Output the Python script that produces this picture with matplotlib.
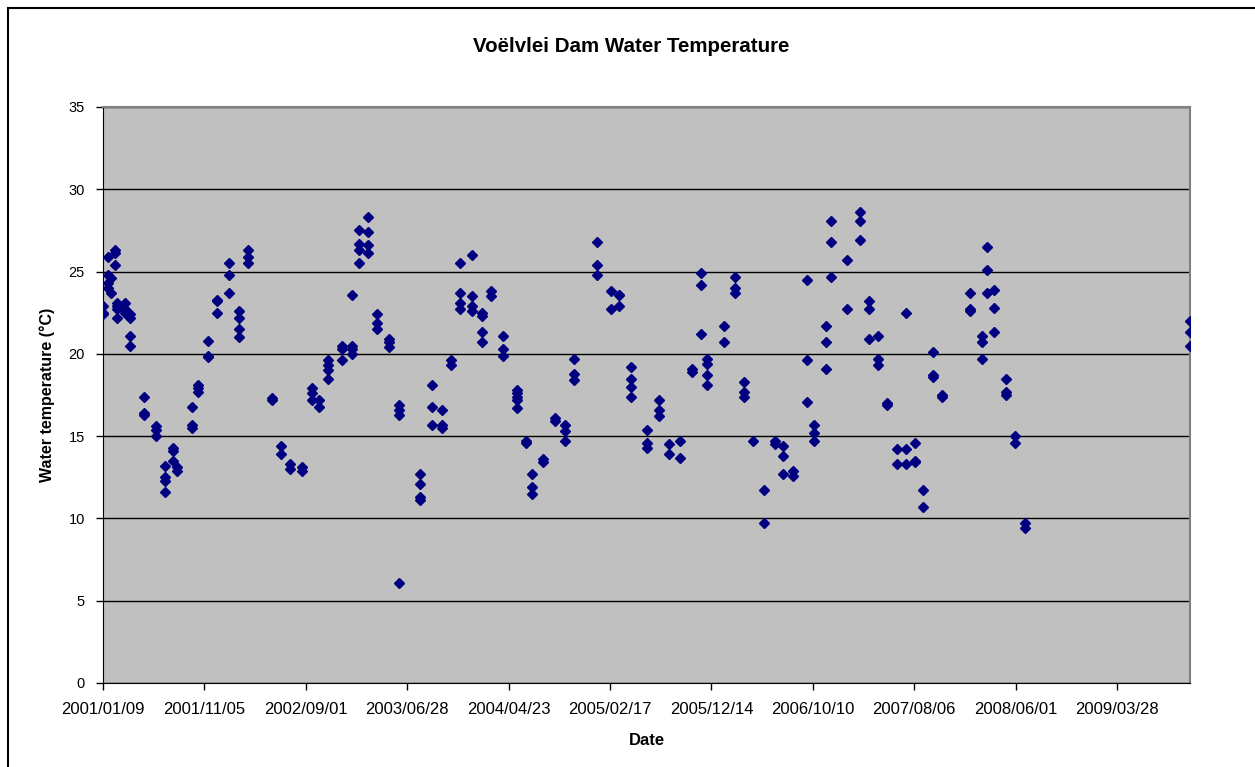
import numpy as np
import matplotlib
matplotlib.use('Agg')
import matplotlib.pyplot as plt
import matplotlib.dates as mdates
from matplotlib.patches import Rectangle

plt.rcParams['font.family'] = ['Liberation Sans', 'DejaVu Sans']

# sampling days, counted from 2001/01/09, and the temperatures read on each day
start = np.datetime64('2001-01-09')
sample_days = [0, 15, 24, 36, 41, 65, 80, 121, 157, 183, 207, 219, 263, 281,
               311, 337, 373, 402, 429, 500, 527, 553, 589, 618, 639, 666,
               707, 737, 757, 784, 811, 846, 876, 938, 973, 1003, 1030, 1056,
               1092, 1121, 1148, 1183, 1225, 1251, 1269, 1302, 1337, 1367,
               1394, 1462, 1503, 1527, 1562, 1609, 1645, 1675, 1707, 1743,
               1769, 1787, 1837, 1870, 1896, 1923, 1956, 1988, 2012, 2041,
               2083, 2104, 2139, 2154, 2201, 2240, 2266, 2293, 2320, 2349,
               2376, 2402, 2426, 2456, 2482, 2565, 2601, 2615, 2636, 2672,
               2698, 2728, 3216]
temps = [
    [22.9, 22.5, 22.4],
    [25.9, 24.8, 24.3, 24.0],
    [24.6, 23.7],
    [26.3, 26.1, 25.4],
    [23.1, 22.7, 22.2, 22.9],
    [23.1, 22.7, 22.5],
    [22.2, 21.1, 20.5, 22.4],
    [17.4, 16.4, 16.3],
    [15.6, 15.4, 15.0],
    [13.2, 12.5, 12.3, 11.6],
    [14.3, 14.1, 13.5],
    [13.1, 12.9],
    [16.8, 15.7, 15.5],
    [18.1, 17.9, 17.7],
    [20.8, 19.9, 19.8],
    [23.3, 23.2, 22.5],
    [25.5, 24.8, 23.7],
    [22.6, 22.2, 21.5, 21.0],
    [26.3, 25.9, 25.5],
    [17.3, 17.2],
    [14.4, 13.9],
    [13.3, 13.0],
    [13.1, 12.9],
    [17.9, 17.6, 17.2],
    [17.2, 16.8],
    [19.6, 19.3, 19.0, 18.5],
    [20.5, 20.3, 19.6],
    [20.5, 20.3, 20.0, 23.6],
    [27.5, 26.7, 26.3, 25.5],
    [28.3, 27.4, 26.6, 26.1],
    [22.4, 21.9, 21.5],
    [20.9, 20.7, 20.4],
    [16.9, 16.6, 16.3, 6.1],
    [12.7, 12.1, 11.3, 11.1],
    [18.1, 16.8, 15.7],
    [16.6, 15.7, 15.5],
    [19.6, 19.3],
    [25.5, 23.7, 23.1, 22.7],
    [26.0, 23.5, 22.9, 22.6],
    [22.5, 22.3, 21.3, 20.7],
    [23.8, 23.5],
    [21.1, 20.3, 19.9],
    [17.8, 17.6, 17.4, 17.2, 16.7],
    [14.7, 14.6],
    [12.7, 11.9, 11.5],
    [13.6, 13.4],
    [16.1, 15.9],
    [15.7, 15.3, 14.7],
    [19.7, 18.8, 18.4],
    [26.8, 25.4, 24.8],
    [23.8, 22.7],
    [23.6, 23.6, 22.9],
    [19.2, 18.5, 18.0, 17.4],
    [15.4, 14.6, 14.3],
    [17.2, 16.6, 16.2],
    [14.5, 13.9],
    [14.7, 13.7],
    [19.1, 18.9],
    [24.9, 24.2, 21.2],
    [19.7, 19.4, 18.7, 18.1],
    [21.7, 20.7],
    [24.7, 24.0, 23.7],
    [18.3, 17.7, 17.4],
    [14.7],
    [11.7, 9.7],
    [14.7, 14.5],
    [14.4, 13.8, 12.7],
    [12.9, 12.6],
    [24.5, 19.6, 17.1],
    [15.7, 15.2, 14.7],
    [21.7, 20.7, 19.1],
    [28.1, 26.8, 24.7],
    [25.7, 22.7],
    [28.6, 28.1, 26.9],
    [23.2, 22.7, 20.9],
    [21.1, 19.7, 19.3],
    [17.0, 16.9],
    [14.2, 13.3],
    [14.2, 13.3, 22.5],
    [14.6, 13.5, 13.4],
    [11.7, 10.7],
    [20.1, 18.7, 18.6],
    [17.5, 17.4],
    [23.7, 22.7, 22.6],
    [21.1, 20.7, 19.7],
    [26.5, 25.1, 23.7],
    [23.9, 22.8, 21.3],
    [18.5, 17.7, 17.5],
    [15.0, 14.6],
    [9.7, 9.4],
    [22.0, 21.3, 20.5],
]

# flatten into one date / temperature pair per point
x_dates = []
y_temps = []
for d, tt in zip(sample_days, temps):
    for t in tt:
        x_dates.append((start + np.timedelta64(d, 'D')).astype(object))
        y_temps.append(t)

tick_dates = [(start + np.timedelta64(300 * i, 'D')).astype(object) for i in range(11)]

fig = plt.figure(figsize=(12.55, 7.67), dpi=100)
ax = fig.add_axes([103 / 1255, 1 - 683 / 767, (1190 - 103) / 1255, (683 - 107) / 767])

# outer chart border (cut off on right and bottom)
fig.patches.append(Rectangle((8 / 1255, -0.05), 1.1, 1 - 8 / 767 + 0.05,
                             transform=fig.transFigure, fill=False,
                             edgecolor='black', linewidth=1.5))

ax.set_facecolor('#C0C0C0')
ax.plot(x_dates, y_temps, linestyle='none', marker='D', markersize=5,
        color='#000080', markeredgecolor='#000080', zorder=3)

ax.set_ylim(0, 35)
ax.set_yticks(range(0, 36, 5))
ax.set_xlim(start.astype(object), (start + np.timedelta64(sample_days[-1], 'D')).astype(object))
ax.set_xticks(tick_dates)
ax.xaxis.set_major_formatter(mdates.DateFormatter('%Y/%m/%d'))

ax.grid(axis='y', color='black', linewidth=1)
ax.set_axisbelow(True)

for s in ['top', 'right']:
    ax.spines[s].set_color('#808080')
    ax.spines[s].set_linewidth(1.5)
ax.spines['left'].set_color('black')
ax.spines['bottom'].set_color('black')

ax.tick_params(axis='both', direction='out', length=5, width=1)
ax.tick_params(axis='y', labelsize=10.5, pad=8)
ax.tick_params(axis='x', labelsize=12, pad=9)

fig.text(631 / 1255, 1 - 47 / 767, 'Voëlvlei Dam Water Temperature',
         fontsize=14.8, fontweight='bold', ha='center', va='center')
ax.set_xlabel('Date', fontsize=12, fontweight='bold', labelpad=11)
ax.set_ylabel('Water temperature (°C)', fontsize=11.5, fontweight='bold', labelpad=10)

fig.savefig('out.png', dpi=100)
